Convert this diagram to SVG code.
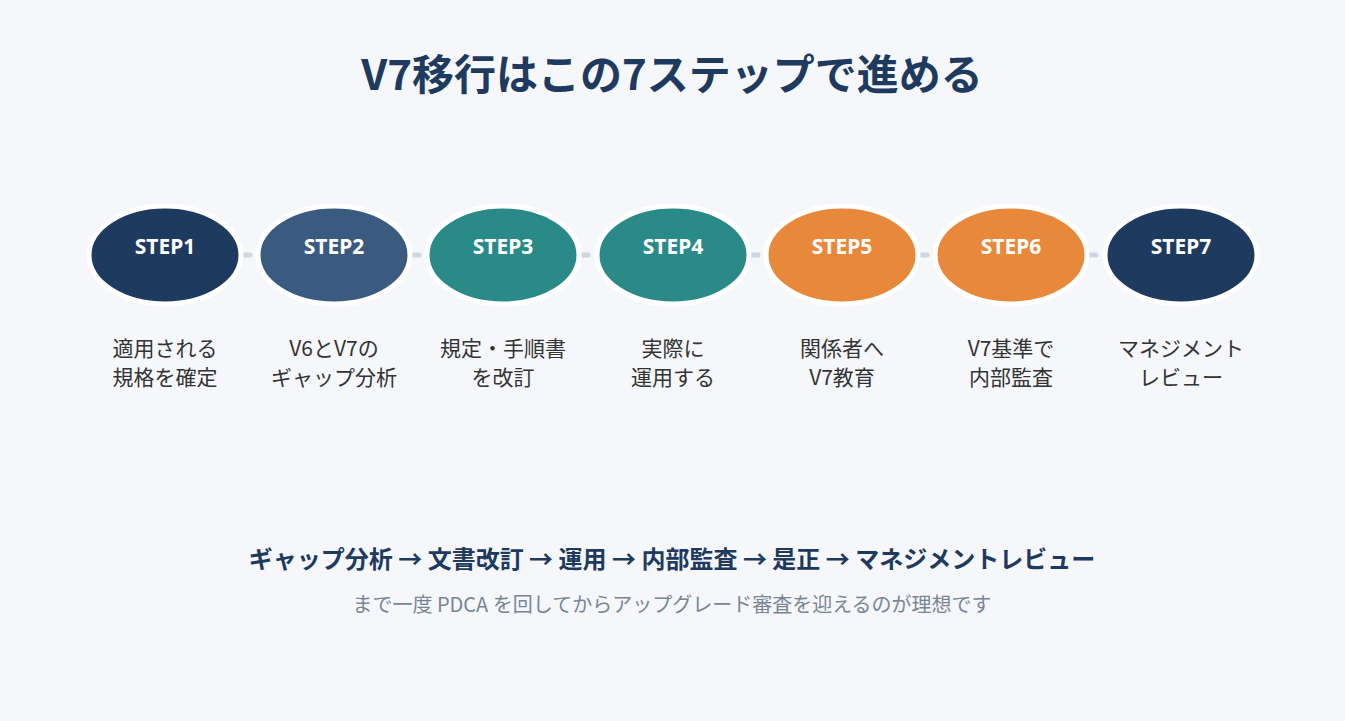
<svg xmlns="http://www.w3.org/2000/svg" width="1345" height="721" viewBox="0 0 1345 721">
<style>
.n{stroke:#fff;stroke-width:5}
.s{font-family:"Noto Sans","Noto Sans CJK JP",sans-serif;font-weight:700;font-size:21px;fill:#fff;text-anchor:middle}
.l{font-family:"Noto Sans CJK JP",sans-serif;font-size:21px;fill:#333;text-anchor:middle}
.c{stroke:#cfd6e0;stroke-width:5;stroke-linecap:round;fill:none}
</style>
<defs><marker id="m" markerWidth="4" markerHeight="4" refX="1" refY="2" orient="auto" markerUnits="strokeWidth"><path d="M0,0.3 Q2,1.2 2,2 Q2,2.8 0,3.7Z" fill="#cfd6e0"/></marker></defs>
<rect width="1345" height="721" fill="#f5f7fb"/>
<text x="672" y="90" text-anchor="middle" font-family="Noto Sans CJK JP,sans-serif" font-weight="700" font-size="42" fill="#1e3a5f">V7移行はこの7ステップで進める</text>
<g id="connectors">
<path class="c" d="M236,255H250" marker-start="url(#m)"/>
<path class="c" d="M405,255H419" marker-start="url(#m)"/>
<path class="c" d="M574,255H588" marker-start="url(#m)"/>
<path class="c" d="M744,255H758" marker-start="url(#m)"/>
<path class="c" d="M913,255H927" marker-start="url(#m)"/>
<path class="c" d="M1082,255H1096" marker-start="url(#m)"/>
</g>
<g id="step1"><ellipse class="n" cx="165" cy="255" rx="76" ry="49" fill="#1e3a5f"/><text class="s" x="165" y="254">STEP1</text><text class="l" x="165" y="356">適用される</text><text class="l" x="165" y="385">規格を確定</text></g>
<g id="step2"><ellipse class="n" cx="334" cy="255" rx="76" ry="49" fill="#3a5a80"/><text class="s" x="334" y="254">STEP2</text><text class="l" x="334" y="356">V6とV7の</text><text class="l" x="334" y="385">ギャップ分析</text></g>
<g id="step3"><ellipse class="n" cx="503" cy="255" rx="76" ry="49" fill="#2a8a88"/><text class="s" x="503" y="254">STEP3</text><text class="l" x="503" y="356">規定・手順書</text><text class="l" x="503" y="385">を改訂</text></g>
<g id="step4"><ellipse class="n" cx="673" cy="255" rx="76" ry="49" fill="#2a8a88"/><text class="s" x="673" y="254">STEP4</text><text class="l" x="673" y="356">実際に</text><text class="l" x="673" y="385">運用する</text></g>
<g id="step5"><ellipse class="n" cx="842" cy="255" rx="76" ry="49" fill="#e8883a"/><text class="s" x="842" y="254">STEP5</text><text class="l" x="842" y="356">関係者へ</text><text class="l" x="842" y="385">V7教育</text></g>
<g id="step6"><ellipse class="n" cx="1011" cy="255" rx="76" ry="49" fill="#e8883a"/><text class="s" x="1011" y="254">STEP6</text><text class="l" x="1011" y="356">V7基準で</text><text class="l" x="1011" y="385">内部監査</text></g>
<g id="step7"><ellipse class="n" cx="1181" cy="255" rx="76" ry="49" fill="#1e3a5f"/><text class="s" x="1181" y="254">STEP7</text><text class="l" x="1181" y="356">マネジメント</text><text class="l" x="1181" y="385">レビュー</text></g>
<text x="672" y="568" text-anchor="middle" font-family="Noto Sans CJK JP,sans-serif" font-weight="700" font-size="24" fill="#1e3a5f">ギャップ分析 → 文書改訂 → 運用 → 内部監査 → 是正 → マネジメントレビュー</text>
<text x="672" y="612" text-anchor="middle" font-family="Noto Sans CJK JP,sans-serif" font-size="20" fill="#7a8594">まで一度 PDCA を回してからアップグレード審査を迎えるのが理想です</text>
</svg>
